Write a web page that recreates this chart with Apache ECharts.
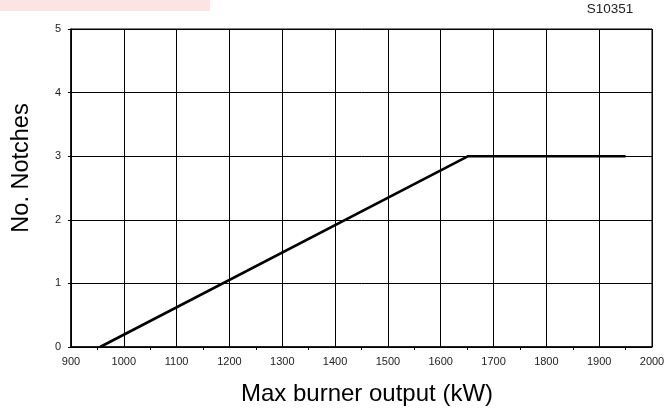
<!DOCTYPE html>
<html>
<head>
<meta charset="utf-8">
<script src="https://cdn.jsdelivr.net/npm/echarts@6/dist/echarts.min.js"></script>
<style>
html,body{margin:0;padding:0;background:#fff;}
#chart{width:667px;height:408px;}
</style>
</head>
<body>
<div id="chart"></div>
<script>
// Data
const xValues = [955, 1652, 1950];
const yValues = [0, 3, 3];
const xTicks = [900, 1000, 1100, 1200, 1300, 1400, 1500, 1600, 1700, 1800, 1900, 2000];
const yTicks = [0, 1, 2, 3, 4, 5];
const xTitle = 'Max burner output (kW)';
const yTitle = 'No. Notches';
const refCode = 'S10351';

const chart = echarts.init(document.getElementById('chart'), null, {renderer: 'canvas'});
const font = 'Liberation Sans, Arial, sans-serif';
chart.setOption({
  backgroundColor: '#fff',
  animation: false,
  grid: {left: 71, right: 15, top: 29, bottom: 61, show: true, borderColor: '#000', borderWidth: 1,
         containLabel: false, outerBoundsMode: 'none'},
  graphic: [
    {type: 'rect', shape: {x: 0, y: 0, width: 210, height: 11}, style: {fill: '#fde4e4'}},
    {type: 'text', x: 610, y: 9, style: {text: refCode, font: '13.5px ' + font, fill: '#222', align: 'center', verticalAlign: 'middle'}},
    {type: 'text', x: 22, y: 168, rotation: Math.PI / 2, style: {text: yTitle, font: '23.5px ' + font, fill: '#000', align: 'center', verticalAlign: 'middle'}},
    {type: 'text', x: 367, y: 394, style: {text: xTitle, font: '24px ' + font, fill: '#000', align: 'center', verticalAlign: 'middle'}}
  ],
  xAxis: {
    type: 'value', min: xTicks[0], max: xTicks[xTicks.length - 1], interval: 100,
    axisLine: {show: true, lineStyle: {color: '#000', width: 1.5}},
    axisTick: {show: false},
    minorTick: {show: true, splitNumber: 2, length: 3, lineStyle: {color: '#000'}},
    axisLabel: {fontFamily: font, fontSize: 11, color: '#222', margin: 9, formatter: v => String(v)},
    splitLine: {show: true, lineStyle: {color: '#000', width: 1}}
  },
  yAxis: {
    type: 'value', min: yTicks[0], max: yTicks[yTicks.length - 1], interval: 1,
    axisLine: {show: true, lineStyle: {color: '#000', width: 1.5}},
    axisTick: {show: true, length: 3, lineStyle: {color: '#000'}},
    axisLabel: {fontFamily: font, fontSize: 11, color: '#222', margin: 10, formatter: v => String(v)},
    splitLine: {show: true, lineStyle: {color: '#000', width: 1}}
  },
  series: [{
    type: 'line',
    data: xValues.map((x, i) => [x, yValues[i]]),
    showSymbol: false,
    lineStyle: {color: '#000', width: 2.6},
    silent: true
  }]
});
</script>
</body>
</html>
